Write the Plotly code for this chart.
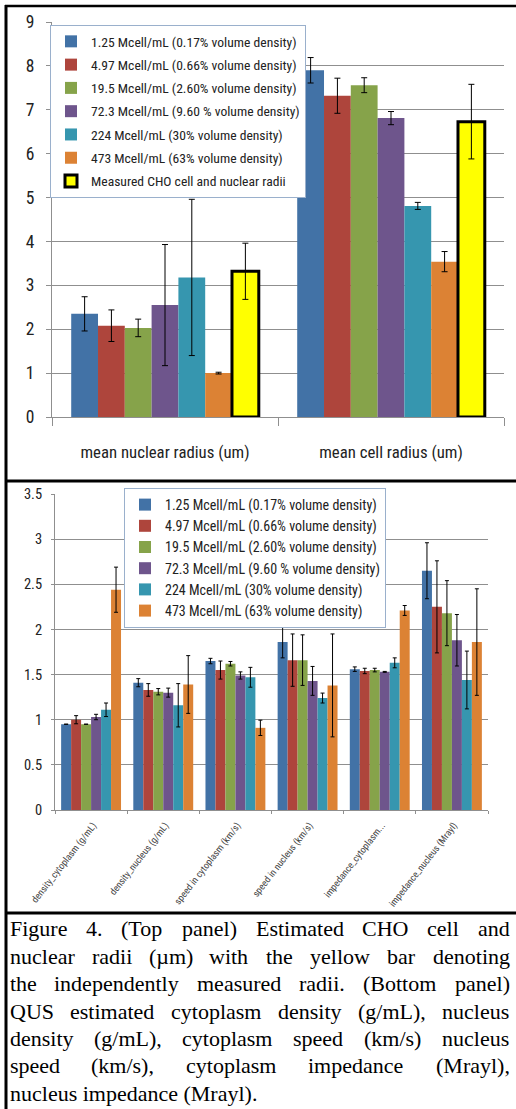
import plotly.graph_objects as go

W, H = 516, 1109

# ---------------- data ----------------
top_categories = ["mean nuclear radius (um)", "mean cell radius (um)"]
top_series = [
    "1.25 Mcell/mL (0.17% volume density)",
    "4.97 Mcell/mL (0.66% volume density)",
    "19.5 Mcell/mL (2.60% volume density)",
    "72.3 Mcell/mL (9.60 % volume density)",
    "224 Mcell/mL (30% volume density)",
    "473 Mcell/mL (63% volume density)",
    "Measured CHO cell and nuclear radii",
]
nuclear_radius = [2.35, 2.08, 2.03, 2.55, 3.18, 1.00, 3.32]
nuclear_radius_err = [0.39, 0.36, 0.20, 1.38, 1.78, 0.02, 0.64]
cell_radius = [7.90, 7.32, 7.56, 6.81, 4.81, 3.54, 6.73]
cell_radius_err = [0.29, 0.40, 0.17, 0.15, 0.08, 0.23, 0.85]

bottom_categories = [
    "density_cytoplasm (g/mL)",
    "density_nucleus (g/mL)",
    "speed in cytoplasm (km/s)",
    "speed in nucleus (km/s)",
    "impedance_cytoplasm...",
    "impedance_nucleus (Mrayl)",
]
bottom_series = top_series[:6]
d_125 = [0.95, 1.41, 1.65, 1.86, 1.56, 2.65]
d_497 = [1.00, 1.33, 1.55, 1.66, 1.54, 2.25]
d_195 = [0.95, 1.31, 1.62, 1.66, 1.55, 2.18]
d_723 = [1.03, 1.30, 1.49, 1.43, 1.53, 1.88]
d_224 = [1.11, 1.16, 1.47, 1.24, 1.63, 1.44]
d_473 = [2.44, 1.39, 0.91, 1.38, 2.21, 1.86]
e_125 = [0.0, 0.045, 0.03, 0.175, 0.025, 0.31]
e_497 = [0.045, 0.07, 0.10, 0.29, 0.03, 0.51]
e_195 = [0.0, 0.035, 0.025, 0.28, 0.02, 0.36]
e_723 = [0.03, 0.05, 0.04, 0.16, 0.005, 0.285]
e_224 = [0.075, 0.24, 0.11, 0.055, 0.055, 0.32]
e_473 = [0.25, 0.32, 0.085, 0.57, 0.055, 0.59]
bottom_values = [d_125, d_497, d_195, d_723, d_224, d_473]
bottom_errors = [e_125, e_497, e_195, e_723, e_224, e_473]

caption_lines = [
    "Figure 4. (Top panel) Estimated CHO cell and",
    "nuclear radii (µm) with the yellow bar denoting",
    "the independently measured radii. (Bottom panel)",
    "QUS estimated cytoplasm density (g/mL), nucleus",
    "density (g/mL), cytoplasm speed (km/s) nucleus",
    "speed (km/s), cytoplasm impedance (Mrayl),",
    "nucleus impedance (Mrayl).",
]

# ---------------- styles ----------------
colors = ["#4272A6", "#AE453C", "#86A34A", "#6E558C", "#3696AF", "#DC8234", "#FFFF00"]
NARROW = "Liberation Sans Narrow, Arial Narrow, Roboto Condensed, Liberation Sans, sans-serif"
SERIF = "Liberation Serif, Times New Roman, serif"
GRID = "#8F8F8F"


def px(x):
    return x / W


def py(y):
    return (H - y) / H


fig = go.Figure()

# top panel bars
for i, name in enumerate(top_series):
    vals = [nuclear_radius[i], cell_radius[i]]
    errs = [nuclear_radius_err[i], cell_radius_err[i]]
    is_meas = i == 6
    fig.add_trace(go.Bar(
        x=top_categories, y=vals, name=name,
        marker=dict(color=colors[i],
                    line=dict(color="black", width=3 if is_meas else 0)),
        error_y=dict(type="data", array=errs, color="black", thickness=1, width=3),
        xaxis="x", yaxis="y", legend="legend", legendgroup="t%d" % i,
    ))

# bottom panel bars
for i, name in enumerate(bottom_series):
    fig.add_trace(go.Bar(
        x=bottom_categories, y=bottom_values[i], name=name,
        marker=dict(color=colors[i], line=dict(width=0)),
        error_y=dict(type="data", array=bottom_errors[i], color="black", thickness=1, width=2),
        xaxis="x2", yaxis="y2", legend="legend2", legendgroup="b%d" % i,
    ))

# caption (justified with Times metrics)
TW = {
    'a': 444, 'b': 500, 'c': 444, 'd': 500, 'e': 444, 'f': 333, 'g': 500, 'h': 500, 'i': 278,
    'j': 278, 'k': 500, 'l': 278, 'm': 778, 'n': 500, 'o': 500, 'p': 500, 'q': 500, 'r': 333,
    's': 389, 't': 278, 'u': 500, 'v': 500, 'w': 722, 'x': 500, 'y': 500, 'z': 444,
    'A': 722, 'B': 667, 'C': 667, 'D': 722, 'E': 611, 'F': 556, 'G': 722, 'H': 722, 'I': 333,
    'J': 389, 'K': 722, 'L': 611, 'M': 889, 'N': 722, 'O': 722, 'P': 556, 'Q': 722, 'R': 667,
    'S': 556, 'T': 611, 'U': 722, 'V': 722, 'W': 944, 'X': 722, 'Y': 722, 'Z': 611,
    '.': 250, ',': 250, '(': 333, ')': 333, '/': 278, 'µ': 500, ' ': 250, '-': 333,
}
CAP_SIZE = 22
CAP_L, CAP_R = 9.5, 509.5
CAP_BASE0, CAP_STEP = 937.5, 27.4


def tw(s):
    return sum(TW.get(c, 500) for c in s) * CAP_SIZE / 1000.0


annotations = []
for li, line in enumerate(caption_lines):
    yc = CAP_BASE0 + li * CAP_STEP - 0.39 * CAP_SIZE
    words = line.split(" ")
    if li == len(caption_lines) - 1:
        xs = [CAP_L]
        words = [line]
    else:
        widths = [tw(w) for w in words]
        gap = (CAP_R - CAP_L - sum(widths)) / (len(words) - 1)
        xs = []
        x = CAP_L
        for w_ in widths:
            xs.append(x)
            x += w_ + gap
    for w_, x in zip(words, xs):
        annotations.append(dict(
            text=w_, x=px(x), y=py(yc), xref="paper", yref="paper",
            xanchor="left", yanchor="middle", showarrow=False,
            borderpad=0, borderwidth=0,
            font=dict(family=SERIF, size=CAP_SIZE, color="black"),
        ))

# frame lines
shapes = [
    dict(type="line", xref="paper", yref="paper", x0=px(5), x1=px(516), y0=py(6), y1=py(6),
         line=dict(color="black", width=2.5)),
    dict(type="line", xref="paper", yref="paper", x0=px(6), x1=px(6), y0=py(5), y1=py(1109),
         line=dict(color="black", width=3)),
    dict(type="line", xref="paper", yref="paper", x0=px(5), x1=px(516), y0=py(481), y1=py(481),
         line=dict(color="black", width=3)),
    dict(type="line", xref="paper", yref="paper", x0=px(5), x1=px(516), y0=py(913), y1=py(913),
         line=dict(color="black", width=3)),
]

fig.update_layout(
    width=W, height=H,
    margin=dict(l=0, r=0, t=0, b=0, autoexpand=False),
    paper_bgcolor="white", plot_bgcolor="white",
    barmode="group", bargap=0.17, bargroupgap=0,
    showlegend=True,
    font=dict(family=NARROW, color="#222222"),
    xaxis=dict(domain=[px(52), px(504)], anchor="y", type="category", automargin=False,
               showline=True, linecolor=GRID, linewidth=1,
               ticks="outside", ticklen=8, tickcolor=GRID, tickson="boundaries",
               tickfont=dict(size=16.8, family=NARROW, color="#222222"),
               showgrid=False, ticklabelstandoff=20),
    yaxis=dict(domain=[py(417), py(22)], anchor="x", range=[0, 9], dtick=1, automargin=False,
               showline=True, linecolor=GRID, linewidth=1,
               ticks="outside", ticklen=5, tickcolor=GRID,
               gridcolor=GRID, gridwidth=1, zeroline=False,
               tickfont=dict(size=17.5, family=NARROW, color="#222222"),
               ticklabelstandoff=8),
    xaxis2=dict(domain=[px(55), px(488)], anchor="y2", type="category", automargin=False,
                showline=True, linecolor=GRID, linewidth=1,
                ticks="outside", ticklen=3, tickcolor=GRID, tickson="boundaries",
                tickangle=-52, ticklabelshift=2, ticklabelstandoff=5,
                tickfont=dict(size=9.6, family=NARROW, color="#444444"),
                showgrid=False),
    yaxis2=dict(domain=[py(810), py(494)], anchor="x2", range=[0, 3.5], dtick=0.5, automargin=False,
                showline=True, linecolor=GRID, linewidth=1,
                ticks="outside", ticklen=3, tickcolor=GRID,
                gridcolor=GRID, gridwidth=1, zeroline=False,
                tickfont=dict(size=14.5, family=NARROW, color="#222222"),
                ticklabelstandoff=6),
    legend=dict(x=px(50), y=py(25), xanchor="left", yanchor="top",
                bgcolor="white", bordercolor="#9AB0CC", borderwidth=1,
                font=dict(size=13.6, family=NARROW, color="#222222"),
                itemwidth=30, traceorder="grouped", tracegroupgap=2.6),
    legend2=dict(x=px(124), y=py(488), xanchor="left", yanchor="top",
                 bgcolor="white", bordercolor="#9AB0CC", borderwidth=1,
                 font=dict(size=14, family=NARROW, color="#222222"),
                 itemwidth=30, traceorder="grouped", tracegroupgap=0),
    annotations=annotations,
    shapes=shapes,
)

fig.write_html("out.html")
